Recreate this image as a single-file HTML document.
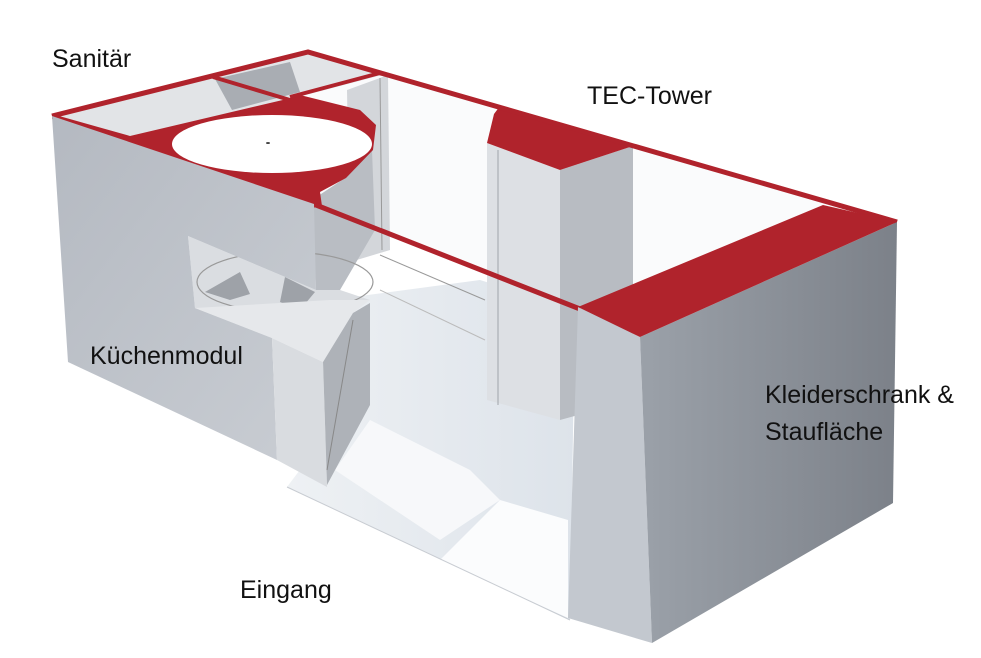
<!DOCTYPE html>
<html><head><meta charset="utf-8">
<style>
html,body{margin:0;padding:0;background:#fff;}
.t{position:absolute;font-family:"Liberation Sans",sans-serif;font-size:25px;color:#111;}
</style></head>
<body>
<div style="position:relative;width:981px;height:658px;overflow:hidden;">
<svg width="981" height="658" viewBox="0 0 981 658" style="position:absolute;left:0;top:0">
<defs>
<linearGradient id="side" x1="0" x2="1" y1="0" y2="0">
<stop offset="0" stop-color="#9ba1a9"/><stop offset="1" stop-color="#7c8189"/></linearGradient>
<linearGradient id="lw" x1="0" x2="1" y1="0" y2="1">
<stop offset="0" stop-color="#b4b9c1"/><stop offset="1" stop-color="#c9cdd3"/></linearGradient>
<linearGradient id="fl" x1="0" x2="1" y1="0" y2="0">
<stop offset="0" stop-color="#eef1f4"/><stop offset="1" stop-color="#dde3ea"/></linearGradient>
</defs>
<polygon points="308,52 897,222 640,337 312,202" fill="#fafbfc"/>
<!-- floor -->
<polygon points="330,300 480,280 575,310 570,620 287,487 330,430" fill="url(#fl)"/>
<polygon points="335,470 370,420 420,445 470,470 500,500 440,540" fill="#f7f8fa"/>
<polygon points="500,500 568,520 568,618 440,560" fill="#fbfcfd"/>
<line x1="287" y1="487" x2="570" y2="620" stroke="#c8ccd2" stroke-width="1"/>
<line x1="380" y1="255" x2="485" y2="300" stroke="#999" stroke-width="1"/>
<line x1="380" y1="290" x2="485" y2="340" stroke="#bbb" stroke-width="1"/>
<polygon points="347,90 388,75 390,250 350,262" fill="#d3d6da"/>
<line x1="380" y1="78" x2="382" y2="250" stroke="#999"/>
<!-- tec tower -->
<polygon points="487,143 560,170 560,420 487,400" fill="#dde0e4"/>
<polygon points="560,170 633,146 633,400 560,420" fill="#b8bcc2"/>
<line x1="498" y1="150" x2="498" y2="405" stroke="#a0a4aa"/>
<polygon points="487,143 494,114 500,106 633,146 560,170" fill="#b0232c"/>
<!-- sanitär -->
<polygon points="52,116 308,52 382,75 287,100 130,138" fill="#e2e4e7"/>
<polygon points="215,79 290,62 300,92 232,110" fill="#a9adb3"/>
<polygon points="312,200 345,178 372,150 375,230 340,290 316,290" fill="#b9bdc3"/>
<polygon points="52,114 130,136 287,99 300,95 360,110 376,125 373,150 346,178 320,192 322,206 312,208 52,119" fill="#b0232c"/>
<ellipse cx="272" cy="144" rx="100" ry="29" fill="#fff"/>
<ellipse cx="268" cy="143" rx="2" ry="1" fill="#444"/>
<polyline points="52,116 308,52 897,222" fill="none" stroke="#b0232c" stroke-width="5"/>
<line x1="213" y1="77" x2="290" y2="100" stroke="#b0232c" stroke-width="4"/>
<line x1="290" y1="97" x2="380" y2="73" stroke="#b0232c" stroke-width="4"/>
<line x1="316" y1="205" x2="580" y2="309" stroke="#b0232c" stroke-width="5"/>
<!-- window -->
<polygon points="188,236 316,290 340,290 370,300 272,338 195,308" fill="#dadde1"/>
<ellipse cx="285" cy="282" rx="88" ry="30" fill="none" stroke="#999" stroke-width="1.2"/>
<polygon points="205,292 240,272 250,294 230,300" fill="#9ea2a8"/>
<polygon points="285,277 315,292 300,310 280,302" fill="#9ea2a8"/>
<!-- left wall -->
<polygon points="52,116 314,204 316,290 188,236 195,308 272,338 277,460 68,362" fill="url(#lw)"/>
<!-- kitchen -->
<polygon points="195,308 330,300 370,300 353,313 323,362 272,338" fill="#e6e8eb"/>
<polygon points="272,338 323,362 327,487 277,460" fill="#d9dce0"/>
<polygon points="323,362 353,313 370,303 370,405 327,485" fill="#aeb2b8"/>
<line x1="327" y1="470" x2="353" y2="320" stroke="#888"/>
<!-- right wall -->
<polygon points="578,307 640,337 652,643 568,618" fill="#c3c8cf"/>
<polygon points="640,337 897,222 893,503 652,643" fill="url(#side)"/>
<polygon points="578,307 823,205 897,222 640,337" fill="#b0232c"/>
</svg>
<div class="t" style="left:52px;top:45px;">Sanitär</div>
<div class="t" style="left:587px;top:82px;">TEC-Tower</div>
<div class="t" style="left:90px;top:342px;">Küchenmodul</div>
<div class="t" style="left:765px;top:381px;">Kleiderschrank &amp;</div>
<div class="t" style="left:765px;top:418px;">Staufläche</div>
<div class="t" style="left:240px;top:576px;">Eingang</div>
</div>
</body></html>
